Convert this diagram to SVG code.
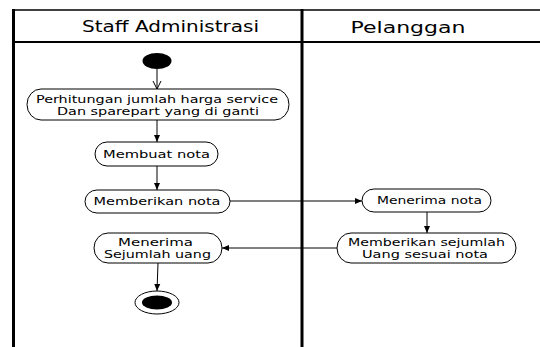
<svg xmlns="http://www.w3.org/2000/svg" width="540" height="347" viewBox="0 0 540 347">
  <style>
    .lane { stroke: #000; fill: none; }
    .act { fill: #fff; stroke: #000; stroke-width: 1; }
    .lbl { font-family: "DejaVu Sans", Verdana, sans-serif; font-size: 11px; fill: #000; text-anchor: middle; }
    .hdr { font-family: "DejaVu Sans", Verdana, sans-serif; font-size: 15px; fill: #000; text-anchor: middle; }
    .flow { stroke: #000; stroke-width: 1; fill: none; marker-end: url(#arrow); }
  </style>
  <defs>
    <marker id="arrow" markerUnits="userSpaceOnUse" markerWidth="8" markerHeight="8" refX="7" refY="4" orient="auto">
      <path d="M0,1 L7,4 L0,7 Z" fill="#000"/>
    </marker>
    <marker id="open" markerUnits="userSpaceOnUse" markerWidth="10" markerHeight="10" refX="8" refY="5" orient="auto">
      <path d="M0,1 L8,5 L0,9" fill="none" stroke="#000" stroke-width="1"/>
    </marker>
  </defs>
  <rect width="540" height="347" fill="#fff"/>

  <!-- swimlanes -->
  <g id="lanes">
    <line class="lane" x1="13" y1="10" x2="540" y2="10" stroke-width="1.5"/>
    <line class="lane" x1="13" y1="42" x2="540" y2="42" stroke-width="2"/>
    <line class="lane" x1="13.5" y1="9" x2="13.5" y2="347" stroke-width="3"/>
    <line class="lane" x1="302" y1="9" x2="302" y2="347" stroke-width="3"/>
    <text class="hdr" x="170.5" y="32" textLength="177" lengthAdjust="spacingAndGlyphs">Staff Administrasi</text>
    <text class="hdr" x="408" y="33" textLength="115" lengthAdjust="spacingAndGlyphs">Pelanggan</text>
  </g>

  <!-- connectors -->
  <g id="connectors">
    <line x1="157" y1="69" x2="157" y2="89" stroke="#000" stroke-width="1" marker-end="url(#open)"/>
    <line class="flow" x1="157" y1="120" x2="157" y2="142"/>
    <line class="flow" x1="157" y1="166" x2="157" y2="190"/>
    <line class="flow" x1="230" y1="201" x2="362" y2="201"/>
    <line class="flow" x1="427" y1="212" x2="427" y2="233"/>
    <line class="flow" x1="337" y1="248" x2="222" y2="248"/>
    <line class="flow" x1="158" y1="263" x2="157" y2="291"/>
  </g>

  <g id="start">
    <ellipse cx="157" cy="61" rx="14.5" ry="8" fill="#000"/>
  </g>

  <g id="hitung">
    <rect class="act" x="27" y="89" width="262" height="31" rx="14" ry="15.5"/>
    <text class="lbl" x="157" y="103" textLength="242" lengthAdjust="spacingAndGlyphs">Perhitungan jumlah harga service</text>
    <text class="lbl" x="158" y="115" textLength="202" lengthAdjust="spacingAndGlyphs">Dan sparepart yang di ganti</text>
  </g>

  <g id="buat-nota">
    <rect class="act" x="95" y="142" width="123" height="24" rx="12" ry="12"/>
    <text class="lbl" x="156.5" y="158" textLength="107" lengthAdjust="spacingAndGlyphs">Membuat nota</text>
  </g>

  <g id="beri-nota">
    <rect class="act" x="85" y="190" width="145" height="23" rx="12" ry="11.5"/>
    <text class="lbl" x="157" y="205" textLength="127" lengthAdjust="spacingAndGlyphs">Memberikan nota</text>
  </g>

  <g id="terima-nota">
    <rect class="act" x="362" y="189" width="129" height="23" rx="12" ry="11.5"/>
    <text class="lbl" x="429.5" y="204" textLength="105" lengthAdjust="spacingAndGlyphs">Menerima nota</text>
  </g>

  <g id="beri-uang">
    <rect class="act" x="337" y="233" width="179" height="30" rx="14" ry="15"/>
    <text class="lbl" x="426.5" y="246" textLength="157" lengthAdjust="spacingAndGlyphs">Memberikan sejumlah</text>
    <text class="lbl" x="425" y="258" textLength="126" lengthAdjust="spacingAndGlyphs">Uang sesuai nota</text>
  </g>

  <g id="terima-uang">
    <rect class="act" x="94" y="233" width="128" height="30" rx="14" ry="15"/>
    <text class="lbl" x="155.5" y="246" textLength="75" lengthAdjust="spacingAndGlyphs">Menerima</text>
    <text class="lbl" x="157.5" y="258" textLength="107" lengthAdjust="spacingAndGlyphs">Sejumlah uang</text>
  </g>

  <g id="end">
    <ellipse cx="157" cy="302.5" rx="22" ry="11.5" fill="#fff" stroke="#000" stroke-width="1"/>
    <ellipse cx="157" cy="302.5" rx="15" ry="7" fill="#000"/>
  </g>
</svg>
